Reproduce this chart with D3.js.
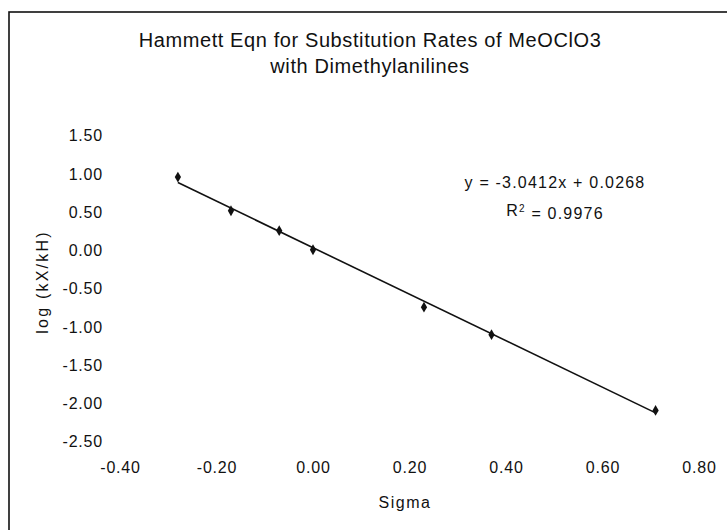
<!DOCTYPE html>
<html>
<head>
<meta charset="utf-8">
<script src="https://cdn.jsdelivr.net/npm/d3@7"></script>
<style>
  body { margin: 0; background: #fff; }
  text { font-family: "Liberation Sans", Arial, sans-serif; fill: #111; }
</style>
</head>
<body>
<div class="chart"></div>
<script>

// Substituent constants and measured rates
var sigma = [-0.28, -0.17, -0.07, 0.00, 0.23, 0.37, 0.71];
var logRatio = [0.95, 0.51, 0.25, 0.00, -0.75, -1.11, -2.10];

// Trendline as reported on the chart
var slope = -3.0412;
var intercept = 0.0268;
var rSquared = "0.9976";

var xTicks = [-0.40, -0.20, 0.00, 0.20, 0.40, 0.60, 0.80];
var yTicks = [1.50, 1.00, 0.50, 0.00, -0.50, -1.00, -1.50, -2.00, -2.50];

var width = 727,
    height = 530;

var svg = d3.select(".chart")
    .append("svg")
      .attr("width", width)
      .attr("height", height);

// Outer chart frame (only top and left edges survive in the scan)
svg.append("rect")
    .attr("x", 9)
    .attr("y", 12)
    .attr("width", width + 20)
    .attr("height", height + 20)
    .style("fill", "none")
    .style("stroke", "#111")
    .style("stroke-width", 1.6);

// Scales
var x = d3.scaleLinear()
    .domain([-0.4, 0.8])
    .range([120, 699]);

var y = d3.scaleLinear()
    .domain([-2.5, 1.5])
    .range([441, 135]);

// Plain hyphen for negatives, like the original
var fmt = function(d) { return d3.format(".2f")(d).replace("\u2212", "-"); };

// Axes: labels only, no lines
var xAxis = d3.axisBottom(x)
    .tickValues(xTicks)
    .tickFormat(fmt)
    .tickSize(0)
    .tickPadding(0);

var yAxis = d3.axisLeft(y)
    .tickValues(yTicks)
    .tickFormat(fmt)
    .tickSize(0)
    .tickPadding(0);

var gx = svg.append("g")
    .attr("class", "xAxis")
    .attr("transform", "translate(0,462)")
    .call(xAxis);

var gy = svg.append("g")
    .attr("class", "yAxis")
    .attr("transform", "translate(103,0)")
    .call(yAxis);

svg.selectAll(".domain").remove();

svg.selectAll(".tick text")
    .style("font-size", "16px")
    .style("letter-spacing", "0.8px")
    .style("fill", "#111");

gy.selectAll(".tick text")
    .attr("dy", "0.36em");

// Titles
svg.append("text")
    .attr("x", 370)
    .attr("y", 47)
    .attr("text-anchor", "middle")
    .style("font-size", "20px")
    .style("letter-spacing", "0.6px")
    .text("Hammett Eqn for Substitution Rates of MeOClO3");

svg.append("text")
    .attr("x", 370)
    .attr("y", 73)
    .attr("text-anchor", "middle")
    .style("font-size", "20px")
    .style("letter-spacing", "0.6px")
    .text("with Dimethylanilines");

svg.append("text")
    .attr("x", 405)
    .attr("y", 508)
    .attr("text-anchor", "middle")
    .style("font-size", "16px")
    .style("letter-spacing", "1.5px")
    .text("Sigma");

svg.append("text")
    .attr("transform", "translate(48,282) rotate(-90)")
    .attr("text-anchor", "middle")
    .style("font-size", "16px")
    .style("letter-spacing", "2.2px")
    .text("log (kX/kH)");

// Trendline over the data range
var xExtent = d3.extent(sigma);

svg.append("line")
    .attr("x1", x(xExtent[0]))
    .attr("y1", y(slope * xExtent[0] + intercept))
    .attr("x2", x(xExtent[1]))
    .attr("y2", y(slope * xExtent[1] + intercept))
    .style("stroke", "#111")
    .style("stroke-width", 1.6);

// Data markers
svg.selectAll(".point")
    .data(sigma)
    .enter().append("path")
      .attr("class", "point")
      .attr("transform", function(d, i) { return "translate(" + x(d) + "," + y(logRatio[i]) + ")"; })
      .attr("d", d3.symbol().type(d3.symbolDiamond).size(34))
      .style("fill", "#111");

// Trendline equation
svg.append("text")
    .attr("x", 555)
    .attr("y", 188)
    .attr("text-anchor", "middle")
    .style("font-size", "16px")
    .style("letter-spacing", "1.2px")
    .text("y = " + slope + "x + " + intercept);

var r2 = svg.append("text")
    .attr("x", 555)
    .attr("y", 216)
    .attr("text-anchor", "middle")
    .style("font-size", "16px")
    .style("letter-spacing", "1.2px");

r2.append("tspan").text("R");
r2.append("tspan")
    .attr("dy", "-0.45em")
    .style("font-size", "10px")
    .text("2");
r2.append("tspan")
    .attr("dy", "0.45em")
    .text(" = " + rSquared);

</script>
</body>
</html>
